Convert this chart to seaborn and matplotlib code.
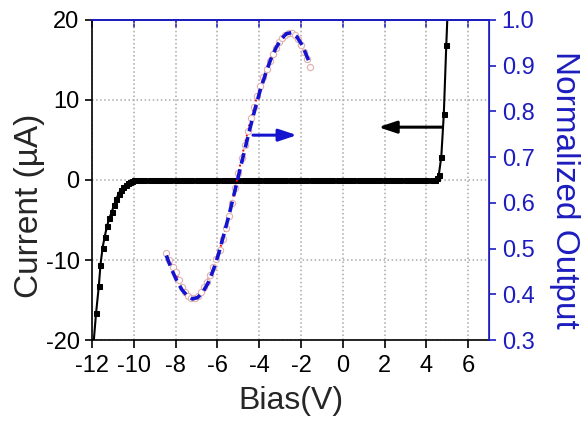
import matplotlib
matplotlib.use("Agg")
import matplotlib.pyplot as plt
import seaborn as sns

# ---------------- data ----------------
bias_v = [-11.95, -11.81, -11.68, -11.6, -11.5, -11.4, -11.29, -11.18, -11.06,
          -10.95, -10.84, -10.73, -10.62, -10.5, -10.4, -10.3, -10.2, -10.1, -10.0,
          -9.75, -9.5, -9.25, -9.0, -8.75, -8.5, -8.25, -8.0, -7.75, -7.5,
          -7.25, -7.0, -6.75, -6.5, -6.25, -6.0, -5.75, -5.5, -5.25, -5.0,
          -4.75, -4.5, -4.25, -4.0, -3.75, -3.5, -3.25, -3.0, -2.75, -2.5,
          -2.25, -2.0, -1.75, -1.5, -1.25, -1.0, -0.75, -0.5, -0.25, 0.0,
          0.25, 0.5, 0.75, 1.0, 1.25, 1.5, 1.75, 2.0, 2.25, 2.5,
          2.75, 3.0, 3.25, 3.5, 3.75, 4.0, 4.25,
          4.4, 4.5, 4.59, 4.71, 4.83, 4.95, 5.02]
current_ua = [-21.0, -16.6, -13.3, -10.6, -8.5, -7.1, -5.8, -4.8, -4.0,
              -3.1, -2.4, -1.7, -1.2, -0.85, -0.6, -0.4, -0.25, -0.12, -0.05,
              0.0, 0.0, 0.0, 0.0, 0.0, 0.0, 0.0, 0.0, 0.0, 0.0,
              0.0, 0.0, 0.0, 0.0, 0.0, 0.0, 0.0, 0.0, 0.0, 0.0,
              0.0, 0.0, 0.0, 0.0, 0.0, 0.0, 0.0, 0.0, 0.0, 0.0,
              0.0, 0.0, 0.0, 0.0, 0.0, 0.0, 0.0, 0.0, 0.0, 0.0,
              0.0, 0.0, 0.0, 0.0, 0.0, 0.0, 0.0, 0.0, 0.0, 0.0,
              0.0, 0.0, 0.0, 0.0, 0.0, 0.0, 0.0,
              0.05, 0.2, 0.6, 2.9, 8.2, 16.9, 21.5]

out_bias = [-8.45, -8.3, -8.15, -8.0, -7.85, -7.7, -7.55, -7.4, -7.25, -7.1,
            -6.95, -6.8, -6.65, -6.5, -6.35, -6.2, -6.05, -5.9, -5.75, -5.6,
            -5.45, -5.3, -5.15, -5.0, -4.85, -4.7, -4.55, -4.4, -4.25, -4.1,
            -3.95, -3.8, -3.65, -3.5, -3.35, -3.2, -3.05, -2.9, -2.75, -2.6,
            -2.45, -2.3, -2.15, -2.0, -1.85, -1.7, -1.55]
out_norm = [0.490, 0.475, 0.460, 0.448, 0.432, 0.417, 0.405, 0.397, 0.393, 0.392,
            0.396, 0.405, 0.415, 0.428, 0.443, 0.460, 0.477, 0.497, 0.520, 0.545,
            0.572, 0.600, 0.632, 0.665, 0.697, 0.727, 0.757, 0.785, 0.810, 0.833,
            0.855, 0.875, 0.893, 0.910, 0.925, 0.939, 0.951, 0.961, 0.968, 0.972,
            0.972, 0.968, 0.958, 0.945, 0.930, 0.915, 0.898]

fit_bias = [-8.45, -8.2, -7.95, -7.7, -7.45, -7.2, -6.95, -6.7, -6.45, -6.2,
            -5.95, -5.7, -5.45, -5.2, -4.95, -4.7, -4.45, -4.2, -3.95, -3.7,
            -3.45, -3.2, -2.95, -2.7, -2.45, -2.2, -1.95, -1.7, -1.55]
fit_norm = [0.485, 0.455, 0.430, 0.410, 0.397, 0.390, 0.393, 0.405, 0.425, 0.453,
            0.488, 0.530, 0.573, 0.620, 0.668, 0.715, 0.762, 0.806, 0.847, 0.882,
            0.914, 0.939, 0.958, 0.970, 0.972, 0.963, 0.945, 0.918, 0.900]

x_ticks = [-12, -10, -8, -6, -4, -2, 0, 2, 4, 6]
y_ticks = [-20, -10, 0, 10, 20]
y2_ticks = [0.3, 0.4, 0.5, 0.6, 0.7, 0.8, 0.9, 1.0]

# ---------------- style ----------------
sns.set_style("ticks")
plt.rcParams['font.family'] = ['Liberation Sans', 'DejaVu Sans']
plt.rcParams['axes.unicode_minus'] = False

BLUE = '#1c1cc0'
ARROW_BLUE = '#1414d0'

fig = plt.figure(figsize=(5.83, 4.23), dpi=100)
ax = fig.add_axes([0.158, 0.196, 0.681, 0.757])

sns.lineplot(x=bias_v, y=current_ua, ax=ax, color='black', lw=1.5,
             marker='s', markersize=3.6, markeredgecolor='black', sort=False)

ax.set_xlim(-12, 7)
ax.set_ylim(-20, 20)
ax.set_xticks(x_ticks)
ax.set_xticklabels([str(t) for t in x_ticks])
ax.set_yticks(y_ticks)
ax.set_yticklabels([str(t) for t in y_ticks])
ax.grid(True, ls=':', color='#a8a8a8', lw=1.1)
ax.set_axisbelow(True)
ax.tick_params(axis='x', direction='out', length=6, width=1.2,
               labelsize=17, pad=5, colors='black')
ax.tick_params(axis='y', direction='out', length=5, width=1.2,
               labelsize=17, pad=4, colors='black')
ax.set_xlabel('Bias(V)', fontsize=23, labelpad=6)
ax.set_ylabel('Current (µA)', fontsize=24)
ax.yaxis.set_label_coords(-0.118, 0.42)
for s in ['left', 'bottom']:
    ax.spines[s].set_color('black')
    ax.spines[s].set_linewidth(1.2)
ax.spines['top'].set_color(BLUE)
ax.spines['right'].set_color(BLUE)
ax.spines['top'].set_linewidth(1.2)

sec = ax.secondary_xaxis('top')
sec.set_xticks(x_ticks)
sec.tick_params(direction='in', length=6, width=1.2, color=BLUE, labeltop=False)
sec.spines['top'].set_color(BLUE)
sec.spines['top'].set_linewidth(1.2)

# arrows
ax.annotate('', xy=(-2.2, 5.6), xytext=(-4.3, 5.6),
            arrowprops=dict(arrowstyle='-|>,head_length=0.9,head_width=0.3',
                            color=ARROW_BLUE, lw=2.2, shrinkA=0, shrinkB=0,
                            mutation_scale=12))
ax.annotate('', xy=(1.7, 6.6), xytext=(4.75, 6.6),
            arrowprops=dict(arrowstyle='-|>,head_length=0.9,head_width=0.3',
                            color='black', lw=2.2, shrinkA=0, shrinkB=0,
                            mutation_scale=12))

ax2 = ax.twinx()
sns.lineplot(x=out_bias, y=out_norm, ax=ax2, color='red', lw=1.4, ls=':',
             marker='o', markersize=4.5, markerfacecolor='white',
             markeredgecolor='#e0b0b0', markeredgewidth=0.8, sort=False)
sns.lineplot(x=fit_bias, y=fit_norm, ax=ax2, color=ARROW_BLUE, lw=2.6,
             ls=(0, (3.0, 1.6)), sort=False)
ax2.set_ylim(0.3, 1.0)
ax2.set_yticks(y2_ticks)
ax2.set_yticklabels([f'{t:.1f}' for t in y2_ticks])
ax2.tick_params(axis='y', direction='out', length=5, width=1.2,
                labelsize=17, pad=4, colors=BLUE)
ax2.set_ylabel('Normalized Output', fontsize=24, color=BLUE, rotation=270,
               va='bottom')
ax2.yaxis.set_label_coords(1.15, 0.47)
ax2.spines['right'].set_color(BLUE)
ax2.spines['right'].set_linewidth(1.2)
ax2.spines['top'].set_color(BLUE)
ax2.spines['top'].set_linewidth(1.2)
ax2.spines['left'].set_visible(False)
ax2.spines['bottom'].set_visible(False)

fig.savefig('out.png', dpi=100)
